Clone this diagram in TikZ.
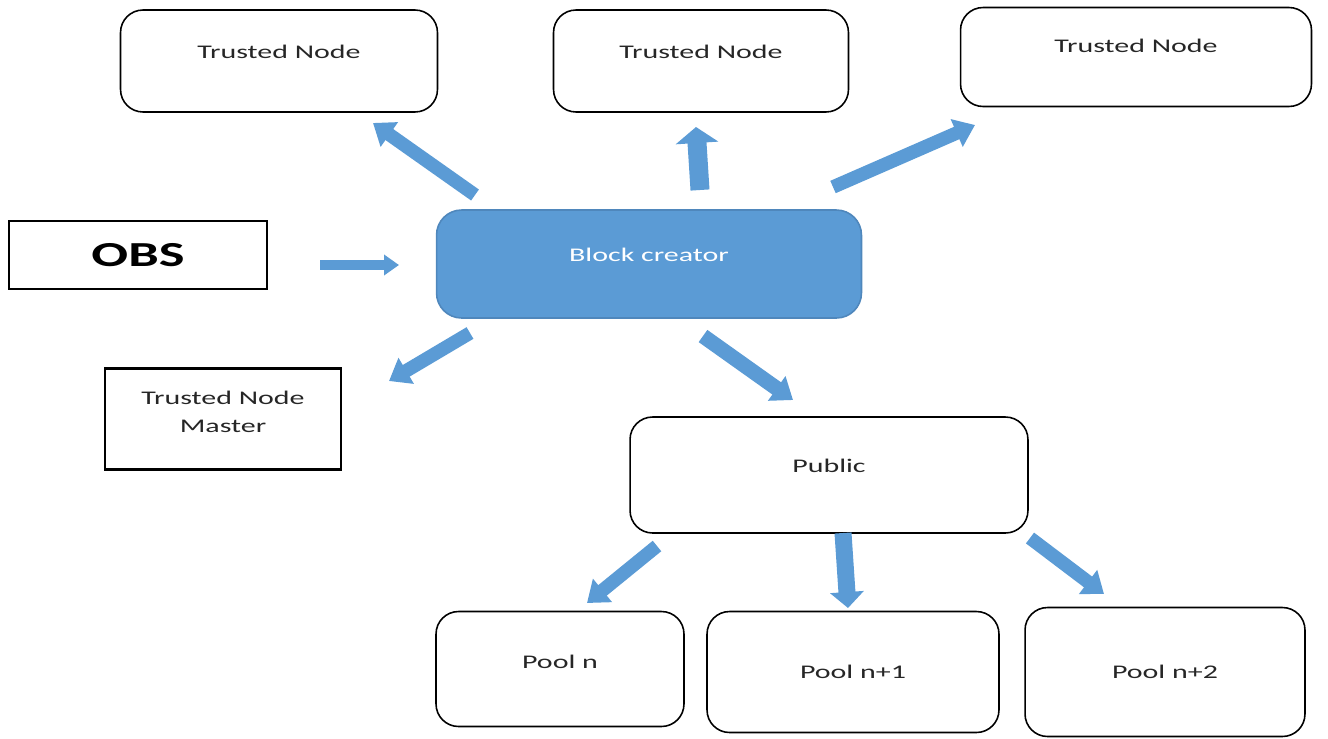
\documentclass[tikz,border=0pt]{standalone}
\usepackage{fontspec}
\setmainfont{Carlito}[FakeStretch=1.55]
\usetikzlibrary{arrows.meta,shapes}
\definecolor{officeblue}{HTML}{5B9BD5}
\definecolor{edgeblue}{HTML}{4F87BC}
\definecolor{inkgray}{HTML}{262626}

\begin{document}
\begin{tikzpicture}[x=0.02cm,y=-0.02cm,
	rbox/.style={draw,line width=0.9pt,rounded corners=0.45cm,inner sep=0pt,text=inkgray,font=\fontsize{11}{13}\selectfont},
	sbox/.style={draw,line width=1.3pt,inner sep=0pt,text=inkgray,font=\fontsize{11}{16}\selectfont,align=center},
	raised/.style={text depth=10pt},
	fat/.style={draw=officeblue,line width=0.27cm,-{Triangle[length=0.4cm,width=0.58cm]}}]
	
	\useasboundingbox (0,0) rectangle (1328,738);
	
	% boxes
	\node[rbox,raised,minimum width=6.34cm,minimum height=2.04cm] (tn1) at (279,61) {Trusted Node};
	\node[rbox,raised,minimum width=5.9cm,minimum height=2.04cm] (tn2) at (701,61) {Trusted Node};
	\node[rbox,raised,minimum width=7.02cm,minimum height=1.98cm,text depth=13pt] (tn3) at (1136,57) {Trusted Node};
	\node[sbox,minimum width=5.16cm,minimum height=1.36cm,text=black,font=\bfseries\fontsize{20}{24}\selectfont] (obs) at (138,255) {OBS};
	\node[rbox,raised,fill=officeblue,draw=edgeblue,text=white,rounded corners=0.5cm,minimum width=8.5cm,minimum height=2.16cm] (bc) at (649,264) {Block creator};
	\node[sbox,minimum width=4.72cm,minimum height=2.02cm,text depth=8pt] (tnm) at (223,419) {Trusted Node\\Master};
	\node[rbox,raised,minimum width=7.96cm,minimum height=2.32cm] (pub) at (829,475) {Public};
	\node[rbox,minimum width=4.96cm,minimum height=2.3cm,text depth=8pt] (p0) at (560,669) {Pool n};
	\node[rbox,minimum width=5.84cm,minimum height=2.42cm] (p1) at (853,672) {Pool n+1};
	\node[rbox,minimum width=5.6cm,minimum height=2.58cm] (p2) at (1165,672) {Pool n+2};
	
	% arrow ends
	\coordinate (a1) at (475,195);
	\coordinate (b1) at (373,123);
	\coordinate (a2) at (700,190);
	\coordinate (b2) at (696,127);
	\coordinate (a3) at (833,187);
	\coordinate (b3) at (975,125);
	\coordinate (a4) at (320,265);
	\coordinate (b4) at (399,265);
	\coordinate (a5) at (470,333);
	\coordinate (b5) at (389,381);
	\coordinate (a6) at (703,336);
	\coordinate (b6) at (793,400);
	\coordinate (a7) at (657,546);
	\coordinate (b7) at (587,603);
	\coordinate (a8) at (843,533);
	\coordinate (b8) at (848,608);
	\coordinate (a9) at (1030,538);
	\coordinate (b9) at (1104,594);
	
	\draw[fat] (a1) -- (b1);
	\draw[fat,line width=0.38cm,-{Triangle[length=0.32cm,width=0.84cm]}] (a2) -- (b2);
	\draw[fat] (a3) -- (b3);
	\draw[fat,line width=0.2cm,-{Triangle[length=0.3cm,width=0.4cm]}] (a4) -- (b4);
	\draw[fat] (a5) -- (b5);
	\draw[fat,line width=0.3cm] (a6) -- (b6);
	\draw[fat] (a7) -- (b7);
	\draw[fat,line width=0.34cm,-{Triangle[length=0.32cm,width=0.66cm]}] (a8) -- (b8);
	\draw[fat] (a9) -- (b9);
	
\end{tikzpicture}
\end{document}
